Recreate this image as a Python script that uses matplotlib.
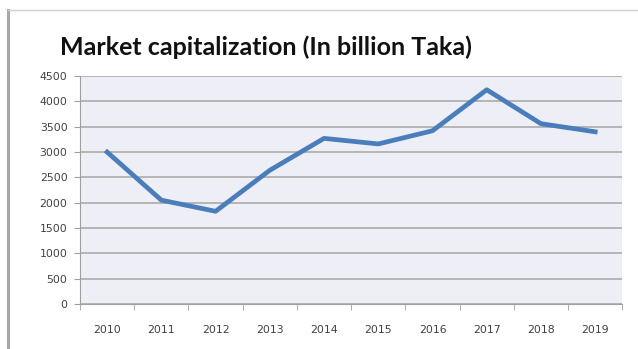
import numpy as np
import matplotlib.pyplot as plt
from matplotlib.lines import Line2D

years = ["2010", "2011", "2012", "2013", "2014", "2015", "2016", "2017", "2018", "2019"]
market_cap = [3000, 2050, 1830, 2640, 3270, 3160, 3420, 4230, 3560, 3400]
y_ticks = [0, 500, 1000, 1500, 2000, 2500, 3000, 3500, 4000, 4500]

fig = plt.figure(figsize=(6.38, 3.49), dpi=100)
fig.patch.set_facecolor('white')

# chart frame
fig.add_artist(Line2D([0.012, 0.012], [0.0, 0.972], color='#a8a8a8', linewidth=2.2, transform=fig.transFigure))
fig.add_artist(Line2D([0.012, 1.0], [0.972, 0.972], color='#d0d0d0', linewidth=1.0, transform=fig.transFigure))

ax = fig.add_axes([0.1254, 0.129, 0.85, 0.653])
ax.set_facecolor('#eeeef6')

x = np.arange(len(years))
ax.plot(x, market_cap, color='#4a7ebb', linewidth=3.4, solid_joinstyle='round', zorder=3)

ax.set_xlim(-0.5, len(years) - 0.5)
ax.set_ylim(0, 4500)
ax.set_yticks(y_ticks)
ax.set_yticklabels([str(v) for v in y_ticks], fontsize=7.8, color='#404040')
ax.set_xticks(x)
ax.set_xticklabels(years, fontsize=7.8, color='#404040')
ax.set_xticks(np.arange(-0.5, len(years) + 0.5, 1), minor=True)
ax.tick_params(axis='x', which='major', length=0, pad=15)
ax.tick_params(axis='x', which='minor', length=4, color='#a0a0a0', direction='out')
ax.tick_params(axis='y', length=4, color='#a0a0a0', pad=5)

ax.grid(axis='y', color='#ababab', linewidth=1.2)
ax.set_axisbelow(True)
for side in ['top', 'right']:
    ax.spines[side].set_visible(False)
ax.spines['left'].set_color('#a0a0a0')
ax.spines['bottom'].set_color('#a0a0a0')

fig.text(0.417, 0.865, "Market capitalization (In billion Taka)", ha='center', va='center',
         fontsize=18, fontweight='bold', family='Lato', color='#111111')

plt.savefig("out.png", dpi=100)
